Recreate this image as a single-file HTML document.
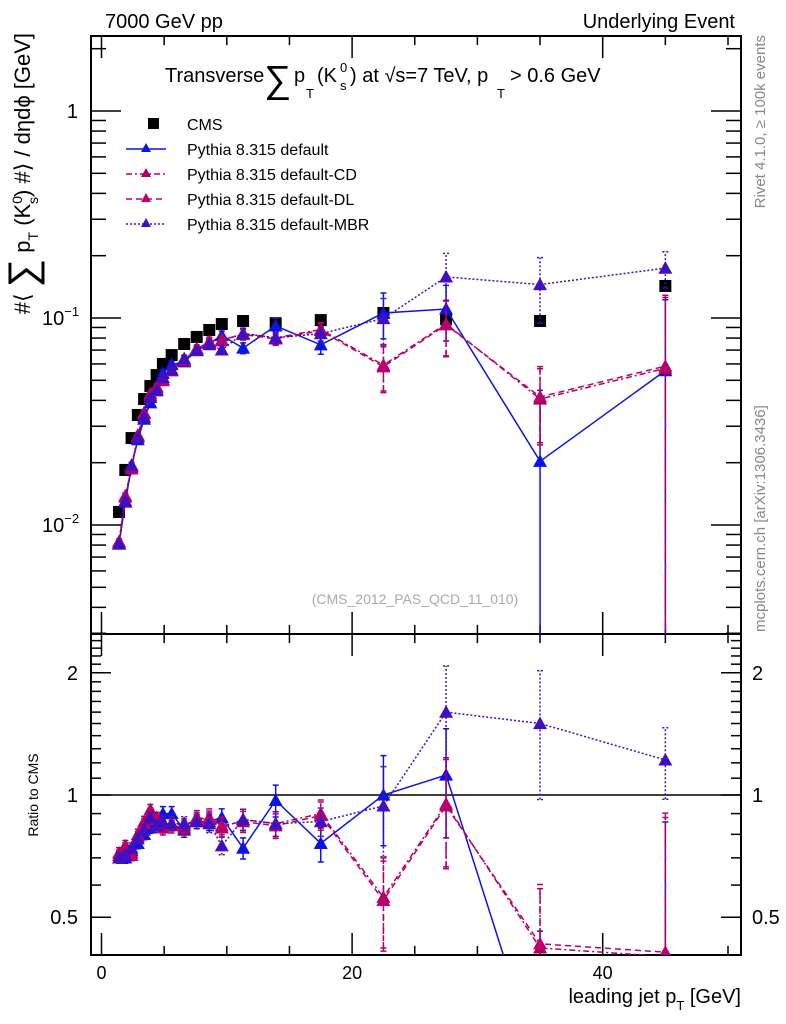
<!DOCTYPE html>
<html><head><meta charset="utf-8"><style>
html,body{margin:0;padding:0;background:#fff;width:786px;height:1024px;overflow:hidden;}
svg{display:block;font-family:"Liberation Sans",sans-serif;}
</style></head><body>
<svg id="c" width="786" height="1024" viewBox="0 0 786 1024">
<defs>
<clipPath id="clipTop"><rect x="91" y="36" width="650" height="598"/></clipPath>
<clipPath id="clipRat"><rect x="91" y="634" width="650" height="321"/></clipPath>
</defs>
<text x="105" y="28" font-size="20">7000 GeV pp</text>
<text x="735" y="28" font-size="20" text-anchor="end">Underlying Event</text>
<g>
<text x="165" y="82" font-size="20">Transverse</text>
<text x="264" y="92" font-size="38">∑</text>
<text x="294" y="82" font-size="20">p</text>
<text x="306" y="98" font-size="13">T</text>
<text x="317" y="82" font-size="20">(K</text>
<text x="340" y="72" font-size="13">0</text>
<text x="340" y="90" font-size="13">s</text>
<text x="350" y="82" font-size="20">) at √s=7 TeV, p</text>
<text x="497" y="98" font-size="13">T</text>
<text x="510" y="82" font-size="20">&gt; 0.6 GeV</text>
</g>
<g transform="translate(30,33) rotate(-90)">
<text x="0" y="0" font-size="22" text-anchor="end">#⟨ <tspan font-size="40" dy="6">∑</tspan><tspan dy="-6"> p</tspan><tspan font-size="14" dy="8">T</tspan><tspan dy="-8"> (K</tspan><tspan font-size="14" dy="-8">0</tspan><tspan font-size="14" dx="-8" dy="16">s</tspan><tspan dy="-8">) #⟩ / dηdϕ [GeV]</tspan></text>
</g>
<text transform="translate(38,795) rotate(-90)" font-size="14" text-anchor="middle">Ratio to CMS</text>
<text x="741" y="1003" font-size="20" text-anchor="end">leading jet p<tspan font-size="13" dy="7">T</tspan><tspan dy="-7"> [GeV]</tspan></text>
<text transform="translate(765,35) rotate(-90)" font-size="15" fill="#888" text-anchor="end">Rivet 4.1.0, ≥ 100k events</text>
<text transform="translate(765,632) rotate(-90)" font-size="15" fill="#888" text-anchor="start">mcplots.cern.ch [arXiv:1306.3436]</text>
<text x="415" y="604" font-size="14" fill="#aaa" text-anchor="middle">(CMS_2012_PAS_QCD_11_010)</text>
<g id="axes"></g>
<g id="marks"></g>
<g id="legend"></g>
</svg>
<script>
const xs = [1.4,1.9,2.4,2.9,3.4,3.9,4.4,4.9,5.6,6.6,7.6,8.6,9.6,11.3,13.9,17.5,22.5,27.5,35,45];
const cmsVals = [0.01156,0.01845,0.0263,0.034,0.0406,0.0469,0.053,0.060,0.0662,0.0749,0.081,0.0875,0.0935,0.0967,0.0944,0.0977,0.1057,0.0987,0.0967,0.1428];
const ratioDefault = [0.70,0.70,0.73,0.76,0.80,0.83,0.85,0.90,0.90,0.82,0.86,0.86,0.88,0.74,0.97,0.76,1.00,1.12,0.21,0.39];
const ratioCD = [0.72,0.75,0.72,0.80,0.86,0.92,0.88,0.84,0.84,0.83,0.88,0.87,0.83,0.87,0.85,0.90,0.56,0.95,0.42,0.40];
const ratioDL = [0.71,0.74,0.71,0.79,0.85,0.90,0.87,0.83,0.85,0.84,0.87,0.88,0.84,0.86,0.84,0.89,0.55,0.94,0.43,0.41];
const ratioMBR = [0.70,0.71,0.74,0.78,0.82,0.88,0.84,0.86,0.85,0.85,0.86,0.85,0.75,0.87,0.85,0.86,0.94,1.60,1.50,1.22];
const errDefault = [0.03,0.03,0.03,0.03,0.03,0.03,0.03,0.04,0.04,0.04,0.04,0.05,0.05,0.06,0.09,0.1,0.25,0.3,1.2,1.2];
const errCD = [0.03,0.03,0.03,0.03,0.03,0.03,0.03,0.04,0.04,0.04,0.04,0.05,0.05,0.06,0.07,0.08,0.25,0.3,0.4,1.2];
const errMBR = [0.03,0.03,0.03,0.03,0.03,0.03,0.03,0.04,0.04,0.04,0.04,0.05,0.05,0.06,0.07,0.08,0.25,0.3,0.35,0.2];
const xTicks = [0,20,40];
const ratioTicks = [0.5,1,2];
const ratioTickLabels = ["0.5","1","2"];

const NS="http://www.w3.org/2000/svg";
const L=91,R=741,T=36,B=634,RB=955;
const X=v=>101.5+v*12.53;
const Y=v=>111-207*Math.log10(v);
const YR=v=>795-406*Math.log10(v);
function mk(tag,attrs,parent){const e=document.createElementNS(NS,tag);for(const k in attrs)e.setAttribute(k,attrs[k]);parent.appendChild(e);return e;}
const ax=document.getElementById('axes'), mg=document.getElementById('marks'), lg=document.getElementById('legend');

let f1=mk('rect',{x:L,y:T,width:R-L,height:B-T,fill:'none',stroke:'#000','stroke-width':2},ax);


let f2=mk('rect',{x:L,y:B,width:R-L,height:RB-B,fill:'none',stroke:'#000','stroke-width':2},ax);


for(let v=0;v<=50;v+=5){
  const major=v%20===0, len=major?22:13, x=X(v);
  for(const [yb,dir] of [[B,-1],[T,1],[RB,-1],[B,1]]){
    const t=mk('line',{x1:x,x2:x,y1:yb,y2:yb+dir*(major?len:len*0.7),stroke:'#000','stroke-width':1.5},ax);
    
    
  }
}
xTicks.forEach(v=>{const t=mk('text',{x:X(v),y:979,'font-size':18,'text-anchor':'middle'},ax);t.textContent=v;
  
  });
for(let d=-3;d<=0;d++){for(let m=1;m<=9;m++){const v=m*Math.pow(10,d);const y=Y(v);if(y<T||y>B)continue;
  const len=m===1?30:15;
  for(const [xb,dir] of [[L,1],[R,-1]]){const t=mk('line',{x1:xb,x2:xb+dir*len,y1:y,y2:y,stroke:'#000','stroke-width':1.5},ax);
    
    }
}}
const tl1=mk('text',{x:78,y:118,'font-size':20,'text-anchor':'end'},ax);tl1.textContent='1';


[[-1,325],[-2,532]].forEach(([p,y])=>{const t=mk('text',{x:42,y:y,'font-size':20},ax);t.innerHTML='10<tspan font-size="13" dy="-9">−'+(-p)+'</tspan>';
  
  });
for(let v=0.4;v<=2.5;v+=0.1){const y=YR(v);if(y<B||y>RB)continue;
  const major=Math.abs(v-0.5)<1e-6||Math.abs(v-1)<1e-6||Math.abs(v-2)<1e-6;
  const len=major?20:10;
  for(const [xb,dir] of [[L,1],[R,-1]]){const t=mk('line',{x1:xb,x2:xb+dir*len,y1:y,y2:y,stroke:'#000','stroke-width':1.5},ax);
    
    }
}
ratioTicks.forEach((v,i)=>{for(const [x,a] of [[78,'end'],[752,'start']]){const t=mk('text',{x:x,y:YR(v)+7,'font-size':20,'text-anchor':a},ax);t.textContent=ratioTickLabels[i];
  
  }});
const ref=mk('line',{x1:L,x2:R,y1:YR(1),y2:YR(1),stroke:'#000','stroke-width':1.5},ax);



function tri(g,x,y,c,s){return mk('polygon',{points:`${x},${y-s} ${x-s},${y+s*0.8} ${x+s},${y+s*0.8}`,fill:c},g);}
const series=[
 {name:'default',r:ratioDefault,e:errDefault,c:'#0a14e6',dash:'',w:1.5},
 {name:'default-cd',r:ratioCD,e:errCD,c:'#b0005a',dash:'6,3,2,3',w:1.5},
 {name:'default-dl',r:ratioDL,e:errCD,c:'#b8006e',dash:'6,4',w:1.5},
 {name:'default-mbr',r:ratioMBR,e:errMBR,c:'#4010c0',dash:'2,2',w:1.5}
];
function drawPanel(g,Yf,yBot,useRatio){
  series.forEach(s=>{
    const sg=mk('g',{},g);
    
    
    const vals=xs.map((x,i)=>useRatio?s.r[i]:s.r[i]*cmsVals[i]);
    const pts=xs.map((x,i)=>X(x)+','+Yf(vals[i])).join(' ');
    mk('polyline',{points:pts,fill:'none',stroke:s.c,'stroke-width':s.w,'stroke-dasharray':s.dash},sg);
    xs.forEach((x,i)=>{
      const v=vals[i],lo=v*(1-s.e[i]),hi=v*(1+s.e[i]);
      const yl=lo>0?Yf(lo):yBot+5,yh=Yf(hi);
      const eb=mk('path',{d:`M${X(x)},${yl}V${yh}M${X(x)-3},${yh}H${X(x)+3}M${X(x)-3},${yl}H${X(x)+3}`,stroke:s.c,'stroke-width':s.w,'stroke-dasharray':s.dash,fill:'none'},sg);
      
      
      const p=tri(sg,X(x),Yf(v),s.c,7);
      
      
    });
  });
}
const gTop=mk('g',{'clip-path':'url(#clipTop)'},mg);


xs.forEach((x,i)=>{const r=mk('rect',{x:X(x)-6,y:Y(cmsVals[i])-6,width:12,height:12,fill:'#000'},gTop);
  
  });
drawPanel(gTop,Y,B,false);
const gRat=mk('g',{'clip-path':'url(#clipRat)'},mg);


drawPanel(gRat,YR,RB,true);

const leg=[['CMS',null],['Pythia 8.315 default',series[0]],['Pythia 8.315 default-CD',series[1]],['Pythia 8.315 default-DL',series[2]],['Pythia 8.315 default-MBR',series[3]]];
leg.forEach(([lab,s],i)=>{
  const y=124+i*25;
  const g=mk('g',{},lg);
  
  
  if(!s){mk('rect',{x:148,y:y-6,width:11,height:11,fill:'#000'},g);}
  else{mk('line',{x1:126,x2:166,y1:y,y2:y,stroke:s.c,'stroke-width':1.5,'stroke-dasharray':s.dash},g);tri(g,146,y-1,s.c,5);}
  const t=mk('text',{x:187,y:y+6,'font-size':16},g);t.textContent=lab;
});
</script>
</body></html>
